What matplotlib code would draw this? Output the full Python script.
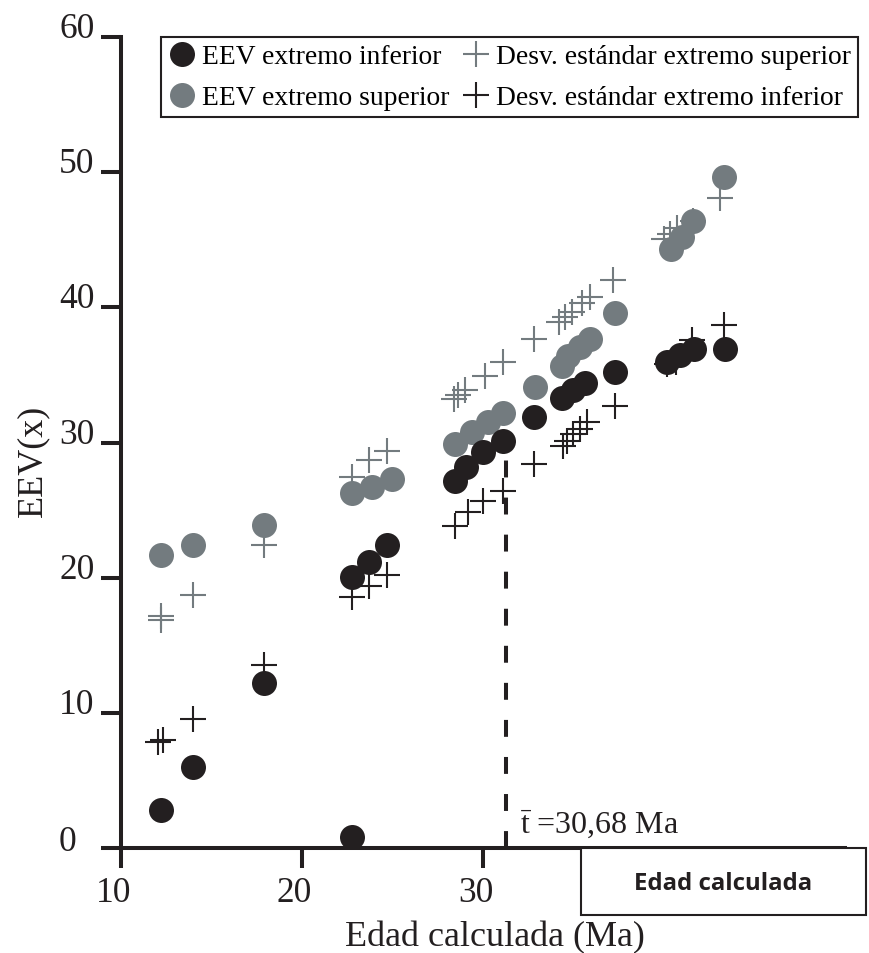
import matplotlib
matplotlib.use("Agg")
import matplotlib.pyplot as plt
from matplotlib.patches import Rectangle
from matplotlib.transforms import offset_copy

plt.rcParams['font.family'] = ['Liberation Serif', 'DejaVu Serif']
plt.rcParams['mathtext.fontset'] = 'custom'
plt.rcParams['mathtext.rm'] = 'Liberation Serif'

# EEV extremo inferior (black circles)
inf_x = [12.23, 14.01, 17.93, 22.78, 22.76, 23.72, 24.7, 28.47, 29.1, 30.03,
         31.14, 32.85, 34.4, 35.0, 35.65, 37.3, 40.2, 40.9, 41.7, 43.37]
inf_y = [2.84, 5.97, 12.2, 0.8, 20.04, 21.2, 22.43, 27.19, 28.18, 29.29,
         30.15, 31.88, 33.3, 33.9, 34.4, 35.2, 36.0, 36.45, 36.95, 36.95]

# EEV extremo superior (grey circles)
sup_x = [12.24, 13.98, 17.93, 22.76, 23.87, 24.97, 28.47, 29.39, 30.3, 31.14,
         32.87, 34.36, 34.73, 35.37, 35.93, 37.3, 40.4, 41.0, 41.63, 43.35]
sup_y = [21.7, 22.4, 23.9, 26.28, 26.7, 27.3, 29.9, 30.77, 31.5, 32.2,
         34.15, 35.7, 36.44, 37.06, 37.68, 39.6, 44.35, 45.2, 46.43, 49.64]

# Desv. estandar extremo superior (grey crosses)
sd_sup_x = [12.23, 12.23, 14.01, 17.93, 22.8, 23.74, 24.7, 28.4, 28.65, 29.05,
            30.15, 31.14, 32.85, 34.2, 34.55, 34.95, 35.5, 35.95, 37.2, 40.0,
            40.35, 40.75, 41.6, 43.12]
sd_sup_y = [17.2, 16.9, 18.75, 22.4, 27.44, 28.74, 29.41, 33.2, 33.5, 33.9,
            34.96, 35.95, 37.68, 38.9, 39.3, 39.7, 40.3, 40.75, 42.0, 45.1,
            45.45, 45.85, 46.4, 48.1]

# Desv. estandar extremo inferior (black crosses)
sd_inf_x = [12.08, 12.35, 14.01, 17.93, 22.8, 23.72, 24.7, 28.47, 29.2, 30.03,
            31.14, 32.85, 34.45, 34.64, 35.0, 35.37, 35.75, 37.3, 40.2, 40.7,
            41.55, 43.35]
sd_inf_y = [7.87, 8.0, 9.55, 13.57, 18.55, 19.4, 20.2, 23.86, 24.85, 25.7,
            26.45, 28.42, 29.78, 30.15, 30.64, 31.0, 31.5, 32.74, 35.8, 36.0,
            37.6, 38.7]

x_ticks = [10, 20, 30]
y_ticks = [0, 10, 20, 30, 40, 50, 60]
t_mean_pos = 31.3
t_mean_top = 28.8

black = '#231f20'
grey = '#737b7f'

fig = plt.figure(figsize=(8.7, 9.54), dpi=100)
ax = fig.add_axes([0.1387, 0.1101, 0.8322, 0.8498])
ax.set_xlim(10, 50)
ax.set_ylim(0, 60)

ax.spines['top'].set_visible(False)
ax.spines['right'].set_visible(False)
for s in ['left', 'bottom']:
    ax.spines[s].set_linewidth(2.9)
    ax.spines[s].set_color(black)

ax.set_xticks(x_ticks)
ax.set_yticks(y_ticks)
ax.tick_params(length=14.4, width=2.9, color=black, direction='out',
               labelleft=False, labelbottom=False)

# tick labels
for v in y_ticks:
    dx = -44 if v == 0 else -26
    dy = -2 if v == 0 else 0
    tr = offset_copy(ax.get_yaxis_transform(), fig=fig, x=dx, y=dy, units='dots')
    ax.text(0, v, str(v), transform=tr, ha='right', va='baseline', fontsize=25.5, color=black)
for v in x_ticks:
    tr = offset_copy(ax.get_xaxis_transform(), fig=fig, x=-7, y=-53, units='dots')
    ax.text(v, 0, str(v), transform=tr, ha='center', va='baseline', fontsize=25.5, color=black)

# series
ax.plot(sd_sup_x, sd_sup_y, '+', color=grey, ms=19.4, mew=1.5, ls='none',
        label='Desv. estándar extremo superior', zorder=3)
ax.plot(sd_inf_x, sd_inf_y, '+', color=black, ms=19.4, mew=1.5, ls='none',
        label='Desv. estándar extremo inferior', zorder=3)
ax.plot(sup_x, sup_y, 'o', color=grey, ms=18, mew=0, ls='none',
        label='EEV extremo superior', zorder=4)
ax.plot(inf_x, inf_y, 'o', color=black, ms=18, mew=0, ls='none',
        label='EEV extremo inferior', zorder=5)

# mean age line
ax.plot([t_mean_pos, t_mean_pos], [0, t_mean_top], color=black, lw=2.9,
        dashes=(4.2, 5.0), zorder=2)
ax.text(32.06, 1.2, r'$\bar{\mathrm{t}}$ =30,68 Ma', fontsize=23, color=black,
        ha='left', va='baseline')

# legend
h, l = ax.get_legend_handles_labels()
order = [3, 2, 0, 1]
leg = ax.legend([h[i] for i in order], [l[i] for i in order], ncol=2,
                loc='upper left', bbox_to_anchor=(0.0557, 1.0), borderaxespad=0,
                fontsize=19.8, frameon=True, fancybox=False, edgecolor=black,
                handlelength=1.0, handletextpad=0.24, columnspacing=0.47,
                borderpad=0.25, labelspacing=0.57, framealpha=1)
leg.get_frame().set_linewidth(1.5)

# axis labels
ax.set_ylabel('EEV(x)', fontsize=26, color=black, va='center', rotation_mode='default')
ax.yaxis.set_label_coords(-0.121, 0.4786)
ax.text(0.517, -0.1197, 'Edad calculada (Ma)', transform=ax.transAxes,
        ha='center', va='baseline', fontsize=26, color=black)

# box over the axis
ax.add_patch(Rectangle((0.636, -0.0826), 0.393, 0.0826, transform=ax.transAxes,
                       facecolor='white', edgecolor=black, lw=1.5, clip_on=False, zorder=6))
ax.text(0.832, -0.0512, 'Edad calculada', transform=ax.transAxes, ha='center',
        va='baseline', fontsize=17.3, fontweight='bold', family='Open Sans',
        color=black, zorder=7)

fig.savefig('out.png', dpi=100)
